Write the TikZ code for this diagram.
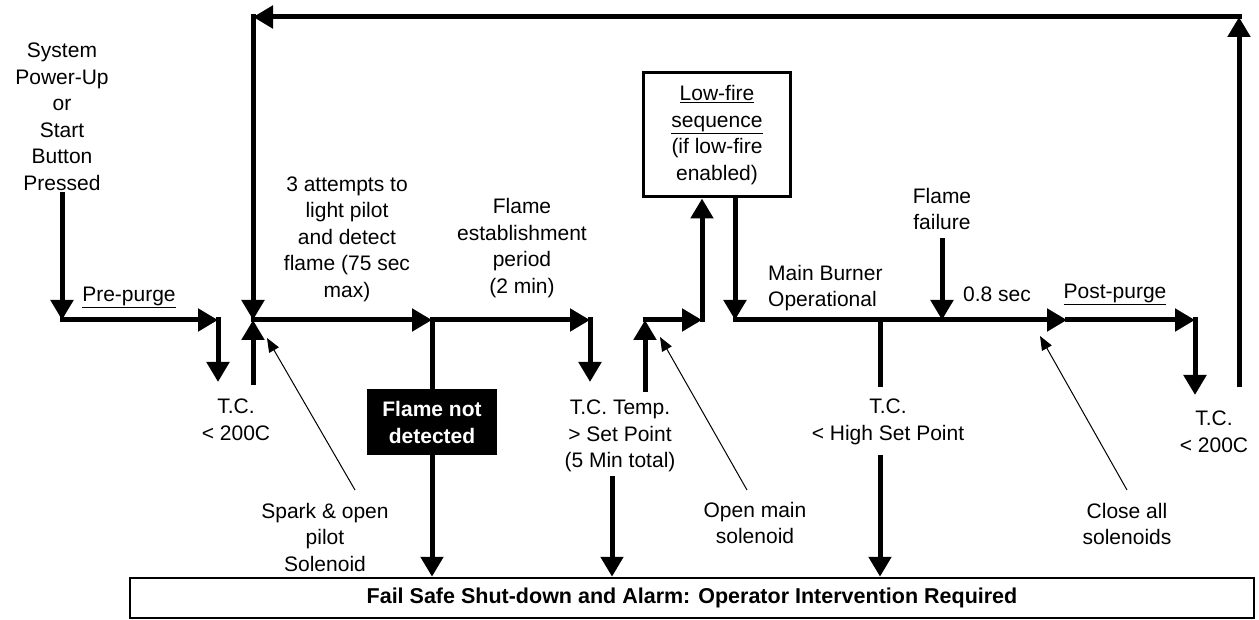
\documentclass[tikz,border=0pt]{standalone}
\usepackage{fontspec}
\setmainfont{Liberation Sans}
\usepackage{tikz}
\usetikzlibrary{arrows.meta,positioning,calc}
\definecolor{ink}{HTML}{000000}
\tikzset{
  lbl/.style={font=\fontsize{21}{26.5}\selectfont,align=center,inner sep=0pt},
  flow/.style={-{Triangle[length=20pt,width=22pt]},line width=5pt,line cap=rect,ink},
  wire/.style={line width=5pt,ink},
  note/.style={-{Triangle[length=14pt,width=11pt]},line width=1pt,ink},
  stagebox/.style={draw=ink,line width=3pt,inner sep=0pt},
  alertbox/.style={fill=ink,text=white,font=\fontsize{21}{27}\selectfont\bfseries,
                   align=center,inner sep=0pt},
}

\begin{document}
\begin{tikzpicture}[x=1pt,y=-1pt]
  \useasboundingbox(0,0)rectangle(1259,620);
  \node[stagebox,line width=2.5pt,minimum width=1124pt,minimum height=40pt,
        font=\fontsize{21.5}{25}\selectfont\bfseries](failsafe)at(692,598)
    {Fail Safe Shut-down and Alarm: Operator Intervention Required};
  \node[lbl](start)at(62,117){System\\Power-Up\\or\\Start\\Button\\Pressed};
  \coordinate(pp0)at(62,320);
  \coordinate(pp1)at(218,320);
  \draw[flow,shorten <=4pt](start.south)--(pp0);
  \draw[flow](pp0)--(pp1);
  \node[lbl](prepurge)at(129,297){\underline{Pre-purge}};
  \node[lbl](tcA)at(236,420){T.C.\\< 200C};
  \coordinate(tcAin)at(218,382);
  \coordinate(tcAout)at(253,383);
  \coordinate(ign)at(253,320);
  \draw[flow](pp1)--(tcAin);
  \draw[flow](tcAout)--(ign);
  \coordinate(loopR)at(1239,17);
  \coordinate(loopL)at(253,17);
  \coordinate(tcBout)at(1239,385);
  \draw[flow](tcBout)--(loopR);
  \draw[flow](loopR)--(loopL);
  \draw[flow](loopL)--(ign);
  \node[lbl](tries)at(347,239){3 attempts to\\light pilot\\and detect\\flame (75 sec\\max)};
  \coordinate(fd)at(432,320);
  \draw[flow](ign)--(fd);
  \node[alertbox,minimum width=130pt,minimum height=65pt](nodet)at(432,422)
    {Flame not\\detected};
  \draw[wire](fd)--(nodet.north);
  \draw[flow](nodet.south)--(nodet.south|-failsafe.north);
  \node[lbl](establish)at(522,248){Flame\\establishment\\period\\(2 min)};
  \coordinate(fe)at(590,320);
  \coordinate(tcCin)at(590,382);
  \draw[flow](fd)--(fe);
  \draw[flow](fe)--(tcCin);
  \node[lbl](tcC)at(620,436){T.C. Temp.\\> Set Point\\(5 Min total)};
  \coordinate(tcCout)at(612,478);
  \draw[flow](tcCout)--(tcCout|-failsafe.north);
  \coordinate(mo)at(645,320);
  \coordinate(mob)at(645,390);
  \coordinate(lf0)at(702,320);
  \draw[flow](mob)--(mo);
  \draw[flow](mo)--(lf0);
  \node[lbl,stagebox,minimum width=147pt,minimum height=124pt](lowfire)at(717,135)
    {\underline{Low-fire}\\\underline{sequence}\\(if low-fire\\enabled)};
  \draw[flow](lf0)--(lf0|-lowfire.south);
  \coordinate(mb)at(735,320);
  \draw[flow](mb|-lowfire.south)--(mb);
  \node[lbl,anchor=west,align=left](burner)at(768,288){Main Burner\\Operational};
  \coordinate(hi)at(880,320);
  \coordinate(hib)at(880,387);
  \coordinate(ff)at(942,320);
  \coordinate(cs)at(1067,320);
  \draw[flow](mb)--(cs);
  \node[lbl](ffail)at(942,209){Flame\\failure};
  \draw[flow,shorten <=10pt](ffail.south)--(ff);
  \node[lbl](delay)at(997,294){0.8 sec};
  \node[lbl](postpurge)at(1115,294){\underline{Post-purge}};
  \coordinate(pp2)at(1195,320);
  \coordinate(tcBin)at(1195,395);
  \draw[flow](cs)--(pp2);
  \draw[flow](pp2)--(tcBin);
  \node[lbl](tcB)at(1214,432){T.C.\\< 200C};
  \draw[wire](hi)--(hib);
  \node[lbl](tcD)at(888,422){T.C.\\< High Set Point};
  \coordinate(hiout)at(880,457);
  \draw[flow](hiout)--(hiout|-failsafe.north);
  \node[lbl](spark)at(325,537){Spark \& open\\pilot\\Solenoid};
  \coordinate(sparkA)at(355,490);
  \coordinate(sparkB)at(267,338);
  \draw[note](sparkA)--(sparkB);
  \node[lbl](openmain)at(755,523){Open main\\solenoid};
  \coordinate(openA)at(747,490);
  \coordinate(openB)at(660,337);
  \draw[note](openA)--(openB);
  \node[lbl](closeall)at(1127,524){Close all\\solenoids};
  \coordinate(closeA)at(1127,490);
  \coordinate(closeB)at(1040,336);
  \draw[note](closeA)--(closeB);
\end{tikzpicture}
\end{document}
